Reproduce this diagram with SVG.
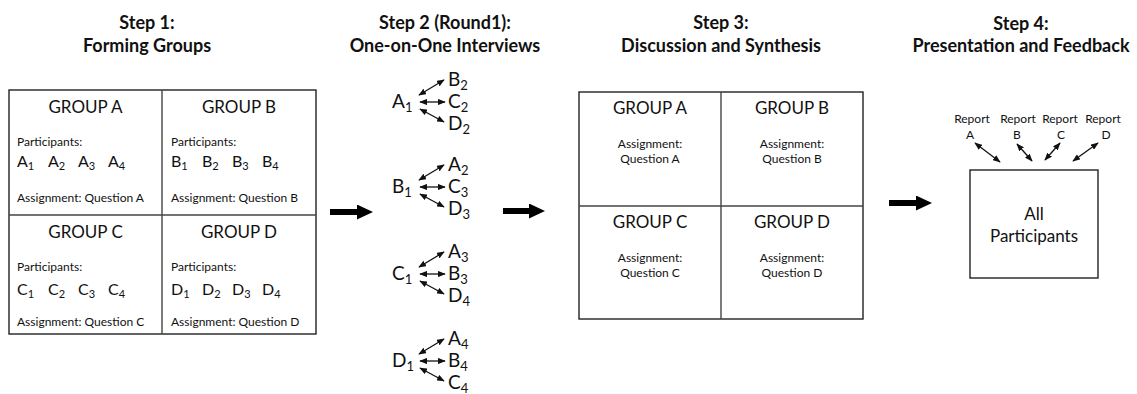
<svg xmlns="http://www.w3.org/2000/svg" width="1137" height="394" viewBox="0 0 1137 394">
<style>
text{font-family:Lato,"Open Sans","Liberation Sans",sans-serif;fill:#111}
.t{font-weight:bold;font-size:18px;text-anchor:middle}
.g{font-size:17px;text-anchor:middle}
.s{font-size:12px}
.sc{font-size:12px;text-anchor:middle}
.l1{font-size:16px}
.l1 tspan{font-size:11px}
.l2{font-size:19px}
.l2 tspan{font-size:13px}
.box{fill:#fff;stroke:#222;stroke-width:1.4}
.div{stroke:#444;stroke-width:1.4}
.sa{stroke:#111;stroke-width:1.3;marker-start:url(#h);marker-end:url(#h)}
.big{stroke:#000;stroke-width:6;marker-end:url(#bh)}
</style>
<defs>
<marker id="h" viewBox="0 0 10 8" refX="9" refY="4" markerWidth="6" markerHeight="4.8" orient="auto-start-reverse"><path d="M0,0 L10,4 L0,8 z" fill="#111"/></marker>
<marker id="bh" viewBox="0 0 16 15" refX="1" refY="7.5" markerUnits="userSpaceOnUse" markerWidth="16" markerHeight="15" orient="auto"><path d="M0,0 L16,7.5 L0,15 z" fill="#000"/></marker>
</defs>

<g id="titles">
<text class="t" x="147" y="29">Step 1:</text>
<text class="t" x="147" y="52">Forming Groups</text>
<text class="t" x="445" y="29">Step 2 (Round1):</text>
<text class="t" x="445" y="52">One-on-One Interviews</text>
<text class="t" x="721" y="29">Step 3:</text>
<text class="t" x="721" y="52">Discussion and Synthesis</text>
<text class="t" x="1021" y="30">Step 4:</text>
<text class="t" x="1021" y="52">Presentation and Feedback</text>
</g>

<g id="step1">
<rect class="box" x="9" y="90" width="307" height="244"/>
<line class="div" x1="162" y1="90" x2="162" y2="334"/>
<line class="div" x1="9" y1="215" x2="316" y2="215"/>
<g id="s1-groupA">
<text class="g" x="85.5" y="113">GROUP A</text>
<text class="s" x="17" y="146">Participants:</text>
<text class="l1" x="17" y="167">A<tspan dy="3">1</tspan></text>
<text class="l1" x="48" y="167">A<tspan dy="3">2</tspan></text>
<text class="l1" x="78" y="167">A<tspan dy="3">3</tspan></text>
<text class="l1" x="108" y="167">A<tspan dy="3">4</tspan></text>
<text class="s" x="17" y="202">Assignment: Question A</text>
</g>
<g id="s1-groupB">
<text class="g" x="239" y="113">GROUP B</text>
<text class="s" x="171" y="146">Participants:</text>
<text class="l1" x="171" y="167">B<tspan dy="3">1</tspan></text>
<text class="l1" x="202" y="167">B<tspan dy="3">2</tspan></text>
<text class="l1" x="232" y="167">B<tspan dy="3">3</tspan></text>
<text class="l1" x="262" y="167">B<tspan dy="3">4</tspan></text>
<text class="s" x="171" y="202">Assignment: Question B</text>
</g>
<g id="s1-groupC">
<text class="g" x="85.5" y="238">GROUP C</text>
<text class="s" x="17" y="271">Participants:</text>
<text class="l1" x="17" y="295">C<tspan dy="3">1</tspan></text>
<text class="l1" x="48" y="295">C<tspan dy="3">2</tspan></text>
<text class="l1" x="78" y="295">C<tspan dy="3">3</tspan></text>
<text class="l1" x="108" y="295">C<tspan dy="3">4</tspan></text>
<text class="s" x="17" y="326">Assignment: Question C</text>
</g>
<g id="s1-groupD">
<text class="g" x="239" y="238">GROUP D</text>
<text class="s" x="171" y="271">Participants:</text>
<text class="l1" x="171" y="295">D<tspan dy="3">1</tspan></text>
<text class="l1" x="202" y="295">D<tspan dy="3">2</tspan></text>
<text class="l1" x="232" y="295">D<tspan dy="3">3</tspan></text>
<text class="l1" x="262" y="295">D<tspan dy="3">4</tspan></text>
<text class="s" x="171" y="326">Assignment: Question D</text>
</g>
</g>

<g id="step2">
<g id="s2-A1">
<text class="l2" x="392" y="108">A<tspan dy="4">1</tspan></text>
<text class="l2" x="448" y="86">B<tspan dy="4">2</tspan></text>
<text class="l2" x="448" y="108">C<tspan dy="4">2</tspan></text>
<text class="l2" x="448" y="130">D<tspan dy="4">2</tspan></text>
</g>
<g id="s2-B1">
<text class="l2" x="392" y="193">B<tspan dy="4">1</tspan></text>
<text class="l2" x="448" y="171">A<tspan dy="4">2</tspan></text>
<text class="l2" x="448" y="193">C<tspan dy="4">3</tspan></text>
<text class="l2" x="448" y="215">D<tspan dy="4">3</tspan></text>
</g>
<g id="s2-C1">
<text class="l2" x="392" y="280">C<tspan dy="4">1</tspan></text>
<text class="l2" x="448" y="258">A<tspan dy="4">3</tspan></text>
<text class="l2" x="448" y="280">B<tspan dy="4">3</tspan></text>
<text class="l2" x="448" y="302">D<tspan dy="4">4</tspan></text>
</g>
<g id="s2-D1">
<text class="l2" x="392" y="367">D<tspan dy="4">1</tspan></text>
<text class="l2" x="448" y="345">A<tspan dy="4">4</tspan></text>
<text class="l2" x="448" y="367">B<tspan dy="4">4</tspan></text>
<text class="l2" x="448" y="389">C<tspan dy="4">4</tspan></text>
</g>
</g>

<g id="step3">
<rect class="box" x="579" y="92" width="284" height="227"/>
<line class="div" x1="721" y1="92" x2="721" y2="319"/>
<line class="div" x1="579" y1="206" x2="863" y2="206"/>
<g id="s3-groupA">
<text class="g" x="650" y="114">GROUP A</text>
<text class="sc" x="650" y="148">Assignment:</text>
<text class="sc" x="650" y="163">Question A</text>
</g>
<g id="s3-groupB">
<text class="g" x="792" y="114">GROUP B</text>
<text class="sc" x="792" y="148">Assignment:</text>
<text class="sc" x="792" y="163">Question B</text>
</g>
<g id="s3-groupC">
<text class="g" x="650" y="228">GROUP C</text>
<text class="sc" x="650" y="262">Assignment:</text>
<text class="sc" x="650" y="277">Question C</text>
</g>
<g id="s3-groupD">
<text class="g" x="792" y="228">GROUP D</text>
<text class="sc" x="792" y="262">Assignment:</text>
<text class="sc" x="792" y="277">Question D</text>
</g>
</g>

<g id="step4">
<g id="all-participants">
<rect class="box" x="970" y="170" width="128" height="108"/>
<text class="g" x="1034" y="220">All</text>
<text class="g" x="1034" y="242">Participants</text>
</g>
<g id="reportA"><text class="sc" x="972" y="123">Report</text><text class="sc" x="970" y="139">A</text></g>
<g id="reportB"><text class="sc" x="1018" y="123">Report</text><text class="sc" x="1017" y="139">B</text></g>
<g id="reportC"><text class="sc" x="1060" y="123">Report</text><text class="sc" x="1061" y="139">C</text></g>
<g id="reportD"><text class="sc" x="1103" y="123">Report</text><text class="sc" x="1106" y="139">D</text></g>
</g>

<g id="connectors">
<line class="sa" x1="419" y1="95" x2="444" y2="80"/>
<line class="sa" x1="420" y1="102" x2="445" y2="102"/>
<line class="sa" x1="420" y1="109" x2="444" y2="122"/>

<line class="sa" x1="419" y1="180" x2="444" y2="165"/>
<line class="sa" x1="420" y1="187" x2="445" y2="187"/>
<line class="sa" x1="420" y1="194" x2="444" y2="207"/>

<line class="sa" x1="419" y1="267" x2="444" y2="252"/>
<line class="sa" x1="420" y1="274" x2="445" y2="274"/>
<line class="sa" x1="420" y1="281" x2="444" y2="294"/>

<line class="sa" x1="419" y1="354" x2="444" y2="339"/>
<line class="sa" x1="420" y1="361" x2="445" y2="361"/>
<line class="sa" x1="420" y1="368" x2="444" y2="381"/>

<line class="sa" x1="975" y1="143" x2="1000" y2="162"/>
<line class="sa" x1="1017" y1="144" x2="1032" y2="161"/>
<line class="sa" x1="1060" y1="143" x2="1045" y2="160"/>
<line class="sa" x1="1098" y1="143" x2="1073" y2="161"/>

<line class="big" x1="330" y1="212" x2="358" y2="212"/>
<line class="big" x1="503" y1="211" x2="530" y2="211"/>
<line class="big" x1="889" y1="203" x2="917" y2="203"/>
</g>
</svg>
